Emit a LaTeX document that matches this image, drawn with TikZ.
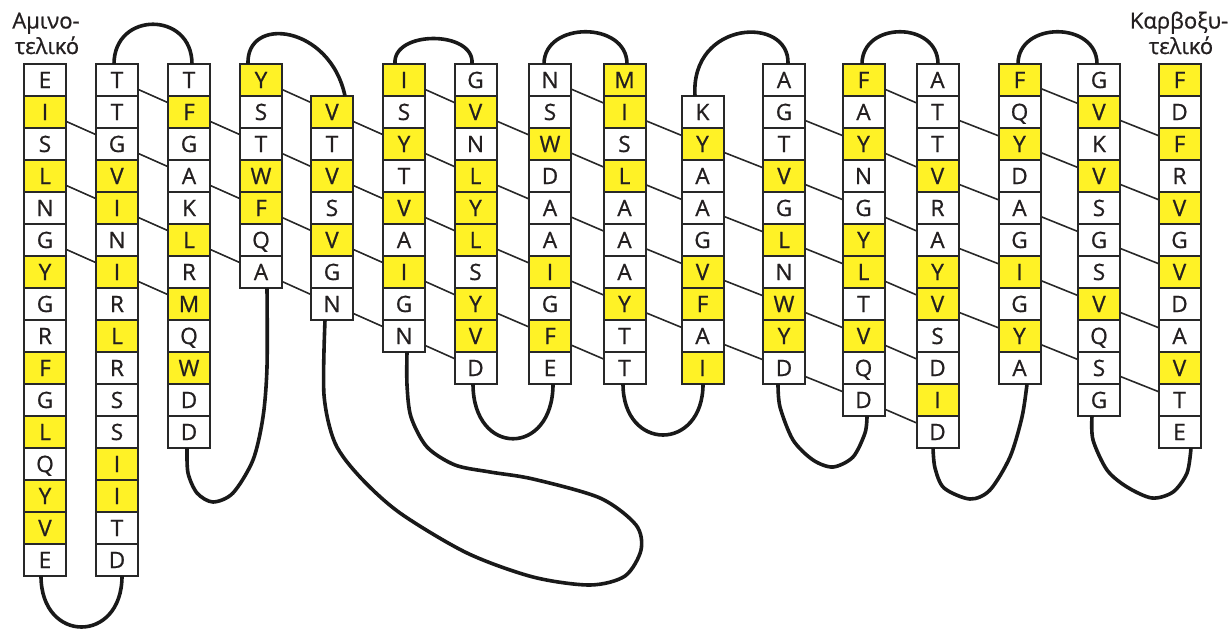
\documentclass[tikz,border=0pt]{standalone}
\usepackage{fontspec}
\setmainfont{Open Sans}[FakeBold=0.8]
\usetikzlibrary{backgrounds}
\definecolor{hl}{RGB}{255,242,38}
\definecolor{edge}{RGB}{40,40,40}
\definecolor{loopc}{RGB}{25,25,25}
\definecolor{txt}{RGB}{35,31,32}
\newcommand\protcol[4]{%
  \foreach \rlet/\rfl [count=\kk from #3] in {#4} {%
    \ifnum\rfl=1 \def\fillc{hl}\else\def\fillc{white}\fi
    \node[res, fill=\fillc] (c#1-\kk) at (#2,{48+32*\kk}) {\rlet};
  }%
}
\begin{document}
\begin{tikzpicture}[x=1pt,y=-1pt,
  res/.style={draw=edge, line width=2pt, minimum width=42pt, minimum height=32pt,
    inner sep=0pt, outer sep=0pt, text=txt, font=\fontsize{22.5}{22.5}\selectfont,
    text height=16pt, text depth=0pt},
  lbl/.style={font=\fontsize{22}{22}\selectfont, text=txt, inner sep=0pt},
  hb/.style={draw=edge, line width=1.6pt},
  lp/.style={draw=loopc, line width=3.6pt}]
\useasboundingbox (0,0) rectangle (1230,634);
\protcol{1}{45}{1}{E/0,I/1,S/0,L/1,N/0,G/0,Y/1,G/0,R/0,F/1,G/0,L/1,Q/0,Y/1,V/1,E/0}
\protcol{2}{117}{1}{T/0,T/0,G/0,V/1,I/1,N/0,I/1,R/0,L/1,R/0,S/0,S/0,I/1,I/1,T/0,D/0}
\protcol{3}{189}{1}{T/0,F/1,G/0,A/0,K/0,L/1,R/0,M/1,Q/0,W/1,D/0,D/0}
\protcol{4}{261}{1}{Y/1,S/0,T/0,W/1,F/1,Q/0,A/0}
\protcol{5}{332}{2}{V/1,T/0,V/1,S/0,V/1,G/0,N/0}
\protcol{6}{404}{1}{I/1,S/0,Y/1,T/0,V/1,A/0,I/1,G/0,N/0}
\protcol{7}{475.5}{1}{G/0,V/1,N/0,L/1,Y/1,L/1,S/0,Y/1,V/1,D/0}
\protcol{8}{550}{1}{N/0,S/0,W/1,D/0,A/0,A/0,I/1,G/0,F/1,E/0}
\protcol{9}{624.5}{1}{M/1,I/1,S/0,L/1,A/0,A/0,A/0,Y/1,T/0,T/0}
\protcol{10}{702.5}{2}{K/0,Y/1,A/0,A/0,G/0,V/1,F/1,A/0,I/1}
\protcol{11}{784}{1}{A/0,G/0,T/0,V/1,G/0,L/1,N/0,W/1,Y/1,D/0}
\protcol{12}{863.5}{1}{F/1,A/0,Y/1,N/0,G/0,Y/1,L/1,T/0,V/1,Q/0,D/0}
\protcol{13}{937.5}{1}{A/0,T/0,T/0,V/1,R/0,A/0,Y/1,V/1,S/0,D/0,I/1,D/0}
\protcol{14}{1019.5}{1}{F/1,Q/0,Y/1,D/0,A/0,G/0,I/1,G/0,Y/1,A/0}
\protcol{15}{1099}{1}{G/0,V/1,K/0,V/1,S/0,G/0,S/0,V/1,Q/0,S/0,G/0}
\protcol{16}{1179.5}{1}{F/1,D/0,F/1,R/0,V/1,G/0,V/1,D/0,A/0,V/1,T/0,E/0}
% labels
\node[lbl, anchor=base] (nt1) at (46,28.5) {Αμινο-};
\node[lbl, anchor=base] (nt2) at (47,54) {τελικό};
\node[lbl, anchor=base] (ct1) at (1179,28.5) {Καρβοξυ-};
\node[lbl, anchor=base] (ct2) at (1181,54) {τελικό};
% diagonal lines behind boxes
\begin{pgfonlayer}{background}
\foreach \i/\rows in {1/{2,4,6},2/{1,3,5,7},3/{2,4,6},4/{1,3,5,7},5/{2,4,6,8},
  6/{1,3,5,7,9},7/{2,4,6,8},8/{1,3,5,7,9},9/{2,4,6,8},10/{3,5,7,9},
  11/{2,4,6,8,10},12/{1,3,5,7,9,11},13/{2,4,6,8},14/{1,3,5,7,9},15/{2,4,6,8,10}} {
  \pgfmathtruncatemacro\j{\i+1}
  \foreach \r in \rows {
    \pgfmathtruncatemacro\s{\r+1}
    \draw[hb] (c\i-\r.center) -- (c\j-\s.center);
  }
}
\end{pgfonlayer}
% top loops
\draw[lp] ([xshift=-3pt]c2-1.north) .. controls +(0,-53) and +(0,-53) .. ([xshift=3pt]c3-1.north);
\draw[lp] ([xshift=-13pt]c4-1.north) .. controls +(-2,-49) and +(-15,-71) .. ([xshift=13pt]c5-2.north);
\draw[lp] ([xshift=-9pt]c6-1.north) .. controls +(-3,-34) and +(3,-34) .. ([xshift=-3.5pt]c7-1.north);
\draw[lp] ([xshift=-6pt]c8-1.north) .. controls +(0,-43) and +(0,-43) .. ([xshift=2.5pt]c9-1.north);
\draw[lp] ([xshift=-7.5pt]c10-2.north) .. controls +(-5,-76) and +(2,-49) .. ([xshift=4pt]c11-1.north);
\draw[lp] ([xshift=-1.5pt]c12-1.north) .. controls +(0,-43) and +(0,-43) .. ([xshift=0.5pt]c13-1.north);
\draw[lp] ([xshift=-1.5pt]c14-1.north) .. controls +(0,-43) and +(0,-43) .. ([xshift=-2pt]c15-1.north);
% bottom loops
\draw[lp] ([xshift=-4pt]c1-16.south) .. controls +(0,68) and +(0,68) .. ([xshift=5pt]c2-16.south);
\draw[lp] plot[smooth] coordinates {([xshift=-2pt]c3-12.south) (188,473) (197,493) (213,502) (233,493) (253,460) (263,417) (267,367) ([xshift=6pt]c4-7.south)};
\draw[lp] plot[smooth] coordinates {([xshift=-7pt]c5-8.south) (324,395) (335,443) (360,477) (400,513) (467,553) (533,577) (590,585) (625,576) (641,550) (636,525) (600,498) (533,479) (490,472) (455,465) (427,447) (411,417) (407,385) ([xshift=3pt]c6-9.south)};
\draw[lp] ([xshift=-2.5pt]c7-10.south) .. controls +(0,73) and +(0,73) .. ([xshift=3pt]c8-10.south);
\draw[lp] ([xshift=-1.5pt]c9-10.south) .. controls +(0,68) and +(0,68) .. ([xshift=0.5pt]c10-10.south);
\draw[lp] plot[smooth] coordinates {([xshift=-6pt]c11-10.south) (780,407) (793,440) (813,460) (833,467) (853,457) (865,433) ([xshift=3.5pt]c12-11.south)};
\draw[lp] plot[smooth] coordinates {([xshift=-4.5pt]c13-12.south) (935,468) (944,488) (970,499) (990,490) (1010,457) (1022,417) ([xshift=7.5pt]c14-10.south)};
\draw[lp] plot[smooth] coordinates {([xshift=-7pt]c15-11.south) (1093,440) (1107,470) (1127,487) (1152,498) (1173,492) (1187,473) ([xshift=11.5pt]c16-12.south)};
\end{tikzpicture}
\end{document}
